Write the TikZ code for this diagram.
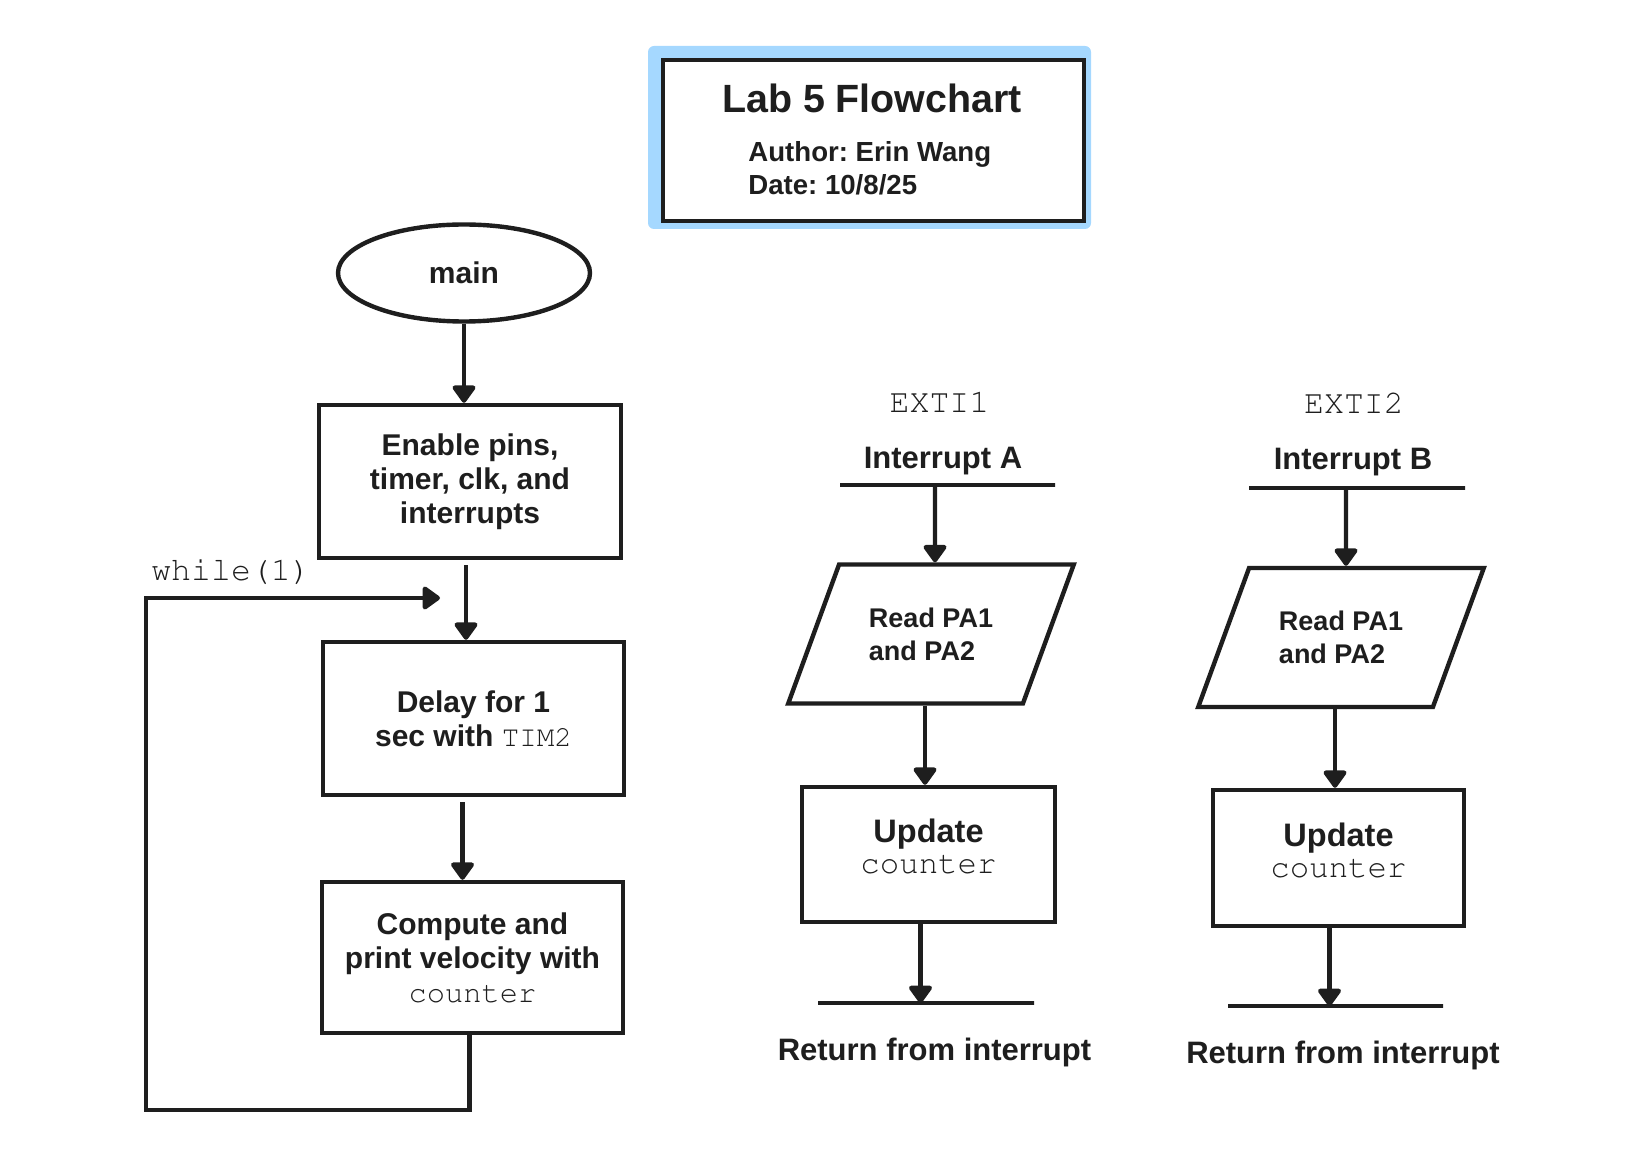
\documentclass[tikz,border=0pt]{standalone}
\usepackage[T1]{fontenc}
\usepackage{fontspec}
\setmainfont{Liberation Sans}
\setmonofont{Liberation Mono}
\frenchspacing
\usepackage{tikz}
\usetikzlibrary{positioning}
\usetikzlibrary{shapes.geometric, arrows.meta}
\definecolor{ink}{HTML}{1E1E1E}
\definecolor{selblue}{HTML}{A5D8FF}
\newcommand{\cour}{\fontencoding{T1}\fontfamily{pcr}\mdseries\upshape}
\newcommand{\boxfont}{\fontsize{15pt}{17pt}\selectfont\bfseries}
\newcommand{\updfont}{\fontsize{16.25pt}{15.5pt}\selectfont\bfseries}
\newcommand{\labfont}{\fontsize{15.5pt}{18pt}\selectfont\bfseries}
\newcommand{\codebig}{\cour\fontsize{16.6pt}{18pt}\selectfont}
\newcommand{\codetxt}[2][15.2pt]{{\cour\fontsize{#1}{17pt}\selectfont #2}}
\tikzstyle{arrow} = [line width=2.2pt,draw=ink,-{Triangle[width=13pt,length=9.5pt,round]}]
\tikzstyle{process} = [rectangle,draw=ink,line width=2.2pt,fill=white,text=ink,align=center,font=\boxfont]
\tikzstyle{io} = [trapezium,trapezium left angle=70,trapezium right angle=110,trapezium stretches=true,inner xsep=14pt,inner ysep=21pt,draw=ink,line width=2.2pt,fill=white,text=ink,align=left,font=\fontsize{13.5pt}{16.5pt}\selectfont\bfseries,minimum width=143pt,minimum height=69.5pt]
\tikzstyle{startstop} = [ellipse,draw=ink,line width=2.2pt,fill=white,text=ink,font=\boxfont]
\tikzstyle{flowbar} = [rectangle,draw=ink,line width=2.2pt,line cap=round,inner sep=0pt,minimum height=0pt]
\tikzstyle{lbl} = [inner sep=0pt,text=ink,anchor=base]

\begin{document}
\begin{tikzpicture}[x=0.5pt,y=-0.5pt]
	\useasboundingbox (0,0) rectangle (1640,1166);

	%Title
	\node (titlebg) [rectangle,fill=selblue,rounded corners=3pt,minimum width=221.5pt,minimum height=91.5pt] at (869.5,137.5) {};
	\node (title) [rectangle,draw=ink,line width=2.2pt,fill=white,minimum width=210.5pt,minimum height=80.5pt] at (873.5,140.5) {};
	\node (titletxt) [lbl,font=\fontsize{19.7pt}{22pt}\selectfont\bfseries] at (872,113) {Lab 5 Flowchart};
	\node (author) [lbl,anchor=base west,font=\fontsize{13.8pt}{16pt}\selectfont\bfseries] at (748,162) {Author: Erin Wang};
	\node (date) [lbl,anchor=base west,font=\fontsize{13.8pt}{16pt}\selectfont\bfseries] at (748,195) {Date: 10/8/25};

	%Nodes
	\node (main) [startstop,minimum width=126pt,minimum height=48.5pt] at (464,273) {main};
	\node (enable) [process,minimum width=151pt,minimum height=76.5pt] at (470,481.5) {Enable pins,\\timer, clk, and\\interrupts};
	\node (delay) [process,minimum width=150.5pt,minimum height=76.5pt] at (473.5,718.5) {Delay for 1\\sec with \codetxt[14.6pt]{TIM2}};
	\node (compute) [process,minimum width=150.5pt,minimum height=75.5pt] at (472.5,957.5) {Compute and\\print velocity with\\\codetxt{counter}};
	\node (whilelbl) [lbl,font=\codebig] at (231,580) {while(1)};
	\coordinate (loopbl) at (146,1110);
	\coordinate (looptl) at (146,598);
	\coordinate (loopend) at (440,598);

	\node (extiA) [lbl,font=\codebig] at (939.5,413) {EXTI1};
	\node (intA) [lbl,font=\labfont] at (943,468) {Interrupt A};
	\node (startA) [flowbar,minimum width=107.5pt] at (947.5,485) {};
	\node (readA) [io] at (931,634) {Read PA1\\and PA2};
	\node (updateA) [process,font=\updfont,text depth=8pt,minimum width=126.5pt,minimum height=67.5pt] at (928.5,854.5) {Update\\\codetxt[16.2pt]{counter}};
	\node (endA) [flowbar,minimum width=108pt] at (926,1003) {};
	\node (retA) [lbl,font=\labfont] at (934.5,1060) {Return from interrupt};

	\node (extiB) [lbl,font=\codebig] at (1354,414) {EXTI2};
	\node (intB) [lbl,font=\labfont] at (1353,470) {Interrupt B};
	\node (startB) [flowbar,minimum width=108pt] at (1357,488) {};
	\node (readB) [io] at (1341,637.5) {Read PA1\\and PA2};
	\node (updateB) [process,font=\updfont,text depth=8pt,minimum width=125.5pt,minimum height=68pt] at (1338.5,858) {Update\\\codetxt[16.2pt]{counter}};
	\node (endB) [flowbar,minimum width=107.5pt] at (1335.5,1006) {};
	\node (retB) [lbl,font=\labfont] at (1343,1063) {Return from interrupt};

	%Lines
	\draw[arrow] (main.south) -- (main.south |- enable.north);
	\draw[arrow,shorten <=2.5pt] ([xshift=-2pt]enable.south) -- ([xshift=-2pt]enable.south |- delay.north);
	\draw[arrow,shorten <=2.5pt] ([xshift=-5.5pt]delay.south) -- ([xshift=-5.5pt]delay.south |- compute.north);
	\draw[arrow] ([xshift=-1.5pt]compute.south) |- (loopbl) -- (looptl) -- (loopend);

	\draw[arrow] ([xshift=2pt]readA |- startA) -- ([xshift=2pt]readA.north);
	\draw[arrow] ([xshift=-3pt]readA.south) -- ([xshift=-3pt]readA.south |- updateA.north);
	\draw[arrow] ([xshift=-4pt]updateA.south) -- ([xshift=-4pt]updateA.south |- endA);

	\draw[arrow] ([xshift=2.5pt]readB |- startB) -- ([xshift=2.5pt]readB.north);
	\draw[arrow] ([xshift=-3pt]readB.south) -- ([xshift=-3pt]readB.south |- updateB.north);
	\draw[arrow] ([xshift=-4.5pt]updateB.south) -- ([xshift=-4.5pt]updateB.south |- endB);
\end{tikzpicture}
\end{document}
